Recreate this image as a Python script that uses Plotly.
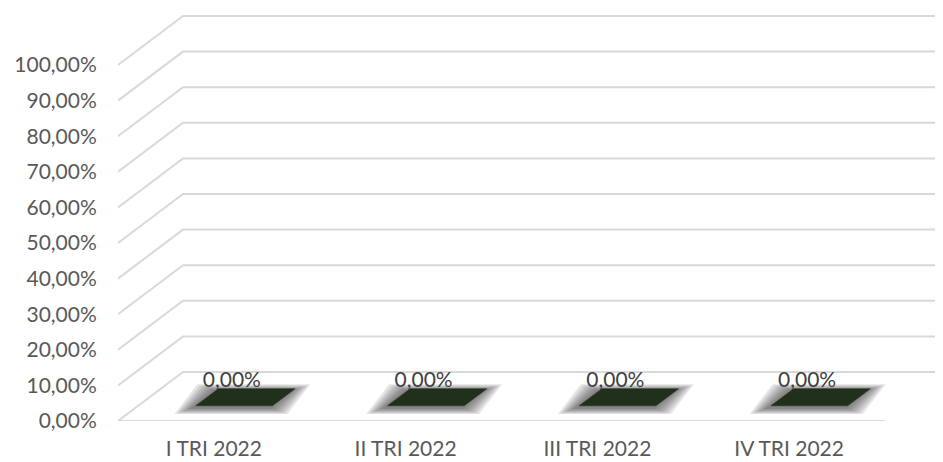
import plotly.graph_objects as go

# ---- data ----
categories = ["I TRI 2022", "II TRI 2022", "III TRI 2022", "IV TRI 2022"]
values = [0.0, 0.0, 0.0, 0.0]
value_labels = ["0,00%", "0,00%", "0,00%", "0,00%"]
y_tickvals = [0.0, 0.1, 0.2, 0.3, 0.4, 0.5, 0.6, 0.7, 0.8, 0.9, 1.0]
y_ticktext = ["0,00%", "10,00%", "20,00%", "30,00%", "40,00%", "50,00%",
              "60,00%", "70,00%", "80,00%", "90,00%", "100,00%"]

# ---- layout constants (pixels, page has an 8px body margin) ----
W, H = 943, 462
PAGE_OFF = 8
X_LEFT = 118 - PAGE_OFF      # front-left corner of floor
Y_FLOOR = 421 - PAGE_OFF     # front floor line
Y_TOP_BACK = 15 - PAGE_OFF   # top of back wall
SLOT = 191.75                # px per category
UNIT = 356.0                 # px per 1.0 (100%)
DEPTH_DX_PX = 65             # perspective shift (x) of back wall
DEPTH_DY_PX = 49             # perspective shift (y) of back wall

x_range = [-0.5, -0.5 + (W - X_LEFT) / SLOT]
y_range = [0.0, (Y_FLOOR - Y_TOP_BACK) / UNIT]
Dx = DEPTH_DX_PX / SLOT
Dy = DEPTH_DY_PX / UNIT

GRID = "#d9d9d9"
TXT = "#595959"
BAR = "#21301a"
FONT = "Lato"
FS = 21

fig = go.Figure()

# perspective gridlines (front diagonal + back wall horizontal)
n = len(categories)
for v in y_tickvals:
    fig.add_trace(go.Scatter(
        x=[-0.5, -0.5 + Dx, n - 0.5 + Dx],
        y=[v, v + Dy, v + Dy],
        mode="lines", line=dict(color=GRID, width=2),
        hoverinfo="skip", showlegend=False, cliponaxis=False))

# front floor edge
fig.add_trace(go.Scatter(
    x=[-0.5, n - 0.5], y=[0, 0], mode="lines",
    line=dict(color=GRID, width=2.2), hoverinfo="skip", showlegend=False,
    cliponaxis=False))

# data labels (drawn before the bars so bar top covers their bottom)
label_dx = 18 / SLOT
label_lift = 39 / UNIT
fig.add_trace(go.Scatter(
    x=[i + label_dx for i in range(n)],
    y=[v + label_lift for v in values],
    mode="text", text=value_labels, textposition="middle center",
    textfont=dict(family=FONT, size=FS, color="#404040"),
    hoverinfo="skip", showlegend=False, cliponaxis=False))

# bars (3D top faces at value level) with soft shadow
HALF = 0.2
D1, D2 = 0.31, 0.66
for i, v in enumerate(values):
    # shadow layers
    for k in range(7, 0, -1):
        ex = k * 2.6 / SLOT
        ey = k * 0.9 / UNIT
        sx = -3 / SLOT
        sy = -2 / UNIT
        xs = [i - HALF + D1 * Dx - ex + sx, i + HALF + D1 * Dx + ex + sx,
              i + HALF + D2 * Dx + ex + sx, i - HALF + D2 * Dx - ex + sx]
        ys = [v + D1 * Dy - ey + sy, v + D1 * Dy - ey + sy,
              v + D2 * Dy + ey + sy, v + D2 * Dy + ey + sy]
        fig.add_trace(go.Scatter(
            x=xs + [xs[0]], y=ys + [ys[0]], mode="lines", fill="toself",
            fillcolor="rgba(60,60,60,0.13)", line=dict(width=0),
            hoverinfo="skip", showlegend=False, cliponaxis=False))
    xs = [i - HALF + D1 * Dx, i + HALF + D1 * Dx,
          i + HALF + D2 * Dx, i - HALF + D2 * Dx]
    ys = [v + D1 * Dy, v + D1 * Dy, v + D2 * Dy, v + D2 * Dy]
    fig.add_trace(go.Scatter(
        x=xs + [xs[0]], y=ys + [ys[0]], mode="lines", fill="toself",
        fillcolor=BAR, line=dict(width=0.5, color=BAR),
        hoverinfo="skip", showlegend=False, cliponaxis=False))

fig.update_layout(
    width=W, height=H,
    margin=dict(l=0, r=0, t=0, b=0, autoexpand=False),
    paper_bgcolor="white", plot_bgcolor="rgba(0,0,0,0)",
    font=dict(family=FONT, size=FS, color=TXT),
    xaxis=dict(
        domain=[X_LEFT / W, 1.0], range=x_range, automargin=False,
        tickmode="array", tickvals=list(range(n)), ticktext=categories,
        showgrid=False, zeroline=False, showline=False,
        ticks="outside", ticklen=9, tickcolor="rgba(0,0,0,0)",
        tickfont=dict(family=FONT, size=FS, color=TXT), fixedrange=True),
    yaxis=dict(
        domain=[(H - Y_FLOOR) / H, (H - Y_TOP_BACK) / H], range=y_range,
        automargin=False,
        tickmode="array", tickvals=y_tickvals, ticktext=y_ticktext,
        showgrid=False, zeroline=False, showline=False,
        ticks="outside", ticklen=16, tickcolor="rgba(0,0,0,0)",
        tickfont=dict(family=FONT, size=FS, color=TXT), fixedrange=True),
)

fig.write_html("out.html")
